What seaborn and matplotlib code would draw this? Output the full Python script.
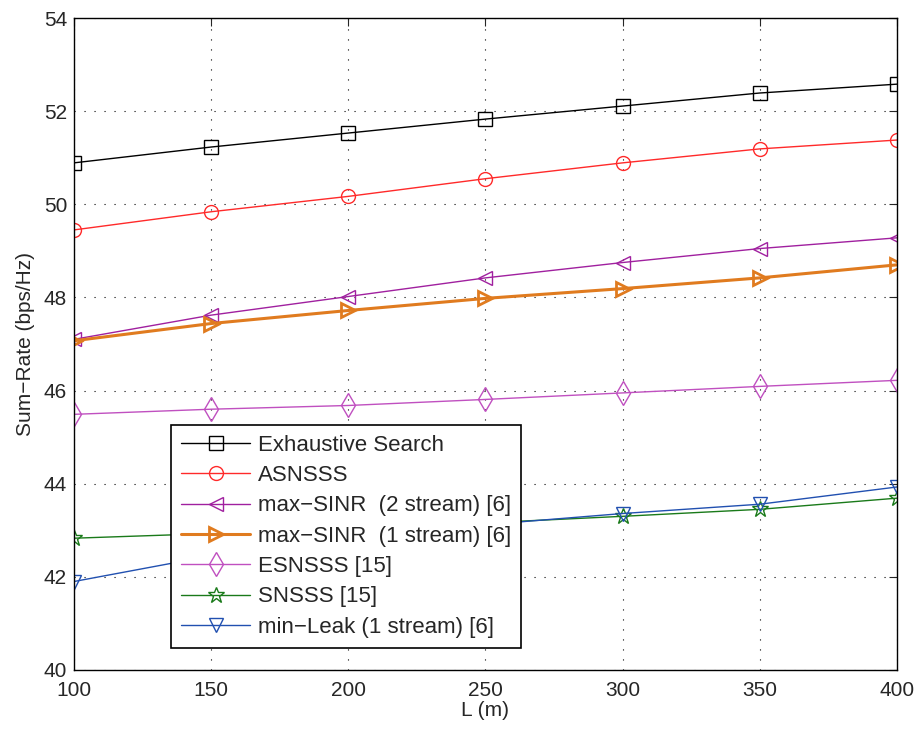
import pandas as pd
import matplotlib
matplotlib.use("Agg")
import matplotlib.pyplot as plt
import seaborn as sns

# distance L (m)
L = [100, 150, 200, 250, 300, 350, 400]

# sum-rate (bps/Hz)
exhaustive = [50.89, 51.23, 51.53, 51.83, 52.11, 52.39, 52.58]
asnsss = [49.45, 49.84, 50.17, 50.55, 50.89, 51.19, 51.38]
maxsinr_2 = [47.10, 47.62, 48.02, 48.42, 48.75, 49.05, 49.28]
maxsinr_1 = [47.07, 47.44, 47.72, 47.98, 48.19, 48.42, 48.70]
esnsss = [45.49, 45.60, 45.68, 45.81, 45.95, 46.09, 46.22]
snsss = [42.83, 42.93, 43.03, 43.16, 43.30, 43.45, 43.69]
minleak = [41.90, 42.45, 42.82, 43.12, 43.36, 43.56, 43.93]

labels = ["Exhaustive Search", "ASNSSS", "max\u2212SINR  (2 stream) [6]",
          "max\u2212SINR  (1 stream) [6]", "ESNSSS [15]", "SNSSS [15]",
          "min\u2212Leak (1 stream) [6]"]
series = [exhaustive, asnsss, maxsinr_2, maxsinr_1, esnsss, snsss, minleak]
colors = ["#000000", "#ff2a2a", "#a0209f", "#e07b1f", "#c050c0", "#1a7a1a", "#2150b0"]
markers = ["s", "o", "<", ">", "d", "*", "v"]
sizes = [10, 10, 10, 10, 12, 12, 10]

sns.set_style("white")
plt.rcParams['font.family'] = ['Liberation Sans', 'DejaVu Sans']

fig = plt.figure(figsize=(9.19, 7.30), dpi=100)
ax = fig.add_axes([0.0805, 0.0822, 0.8955, 0.8931])

for lab, ys, c, m, ms in zip(labels, series, colors, markers, sizes):
    df = pd.DataFrame({"L": L, "rate": ys})
    thick = lab.startswith("max\u2212SINR  (1")
    sns.lineplot(data=df, x="L", y="rate", ax=ax, label=lab, color=c,
                 marker=m, markersize=ms,
                 markerfacecolor="none", markeredgecolor=c,
                 markeredgewidth=2.0 if thick else 1.0,
                 linewidth=2.2 if thick else 1.0)

ax.set_xlim(100, 400)
ax.set_ylim(40, 54)
ax.set_xticks(range(100, 401, 50))
ax.set_yticks(range(40, 55, 2))
ax.grid(True, color="black", linestyle=(0, (1, 8)), linewidth=0.8)
ax.tick_params(direction="in", length=6, top=True, right=True, labelsize=15,
               width=0.8)
ax.tick_params(axis="x", pad=8)
ax.tick_params(axis="y", pad=5)
for s in ax.spines.values():
    s.set_color("black")
    s.set_linewidth(1.0)
ax.set_xlabel("L (m)", fontsize=15, labelpad=1)
ax.set_ylabel("Sum\u2212Rate (bps/Hz)", fontsize=15, labelpad=6)

leg = ax.legend(loc="lower left", bbox_to_anchor=(0.118, 0.034), fontsize=16,
                fancybox=False, framealpha=1, edgecolor="black",
                borderaxespad=0, handlelength=3.1, handletextpad=0.35,
                labelspacing=0.42, borderpad=0.45)
leg.get_frame().set_linewidth(1.2)

fig.savefig("out.png", dpi=100)
